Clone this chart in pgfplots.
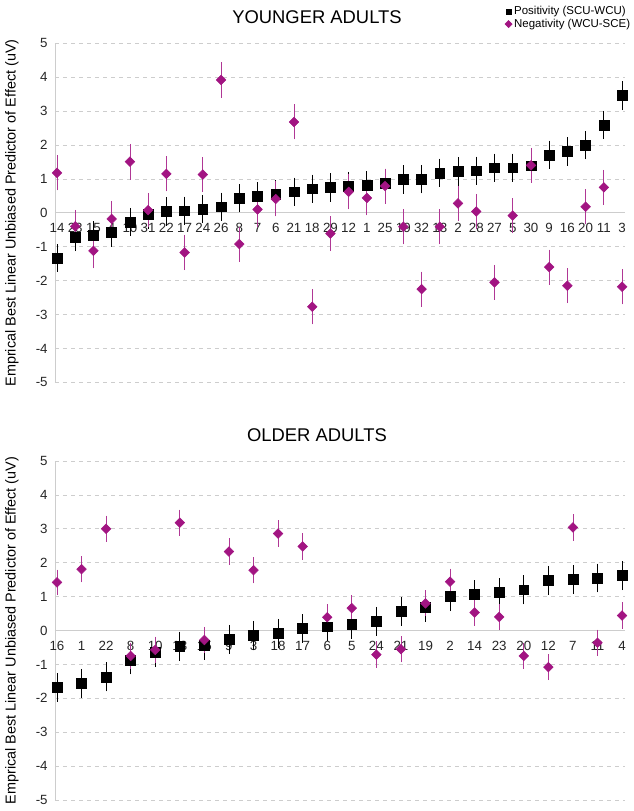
\documentclass[border=0pt]{standalone}
\usepackage{pgfplots}
\usepackage{pgfplotstable}
\pgfplotsset{compat=1.18}
\usepackage{fontspec}
\setmainfont{Liberation Sans}
\definecolor{mag}{RGB}{162,20,130}
\definecolor{gridc}{RGB}{205,205,205}

% Younger adults
\pgfplotstableread{
x y e
0 -1.33 0.32
1 -0.71 0.33
2 -0.66 0.33
3 -0.58 0.33
4 -0.27 0.33
5 -0.05 0.33
6 0.04 0.33
7 0.06 0.33
8 0.11 0.33
9 0.18 0.33
10 0.43 0.33
11 0.49 0.33
12 0.55 0.33
13 0.62 0.33
14 0.71 0.33
15 0.75 0.33
16 0.79 0.33
17 0.81 0.33
18 0.88 0.33
19 0.98 0.33
20 0.99 0.33
21 1.18 0.33
22 1.22 0.33
23 1.24 0.33
24 1.33 0.33
25 1.33 0.33
26 1.39 0.33
27 1.71 0.33
28 1.81 0.33
29 1.99 0.33
30 2.59 0.33
31 3.46 0.34
}\youngpos
\pgfplotstableread{
x y e
0 1.18 0.43
1 -0.40 0.40
2 -1.12 0.43
3 -0.18 0.44
4 1.51 0.44
5 0.08 0.42
6 1.15 0.43
7 -1.17 0.43
8 1.13 0.43
9 3.92 0.44
10 -0.92 0.43
11 0.10 0.43
12 0.41 0.43
13 2.68 0.43
14 -2.77 0.43
15 -0.61 0.43
16 0.62 0.43
17 0.44 0.43
18 0.79 0.43
19 -0.41 0.43
20 -2.25 0.43
21 -0.41 0.43
22 0.28 0.43
23 0.04 0.43
24 -2.05 0.43
25 -0.08 0.43
26 1.40 0.43
27 -1.60 0.43
28 -2.15 0.43
29 0.18 0.43
30 0.75 0.43
31 -2.18 0.43
}\youngneg
% Older adults
\pgfplotstableread{
x y e
0 -1.68 0.34
1 -1.56 0.34
2 -1.37 0.34
3 -0.87 0.34
4 -0.65 0.34
5 -0.46 0.34
6 -0.43 0.34
7 -0.26 0.34
8 -0.14 0.34
9 -0.08 0.34
10 0.06 0.34
11 0.11 0.34
12 0.19 0.34
13 0.27 0.34
14 0.56 0.34
15 0.68 0.34
16 1.00 0.34
17 1.06 0.34
18 1.12 0.34
19 1.20 0.34
20 1.48 0.34
21 1.50 0.34
22 1.55 0.34
23 1.62 0.34
}\oldpos
\pgfplotstableread{
x y e
0 1.42 0.29
1 1.81 0.30
2 3.00 0.30
3 -0.75 0.30
4 -0.57 0.30
5 3.18 0.30
6 -0.28 0.30
7 2.33 0.30
8 1.78 0.30
9 2.86 0.30
10 2.48 0.30
11 0.39 0.30
12 0.66 0.30
13 -0.71 0.30
14 -0.55 0.30
15 0.80 0.30
16 1.44 0.30
17 0.53 0.30
18 0.40 0.30
19 -0.75 0.30
20 -1.08 0.30
21 3.04 0.30
22 -0.36 0.30
23 0.44 0.30
}\oldneg

\pgfplotsset{
  geom/.style={scale only axis, width=427.5pt, height=254.25pt,
    anchor=north west, ymin=-5, ymax=5, clip=false},
  panel/.style={geom,
    axis x line*=middle, axis y line*=left,
    axis line style={gridc, line width=0.7pt},
    ytick={-5,...,5},
    yticklabels={-5,-4,-3,-2,-1,0,1,2,3,4,5},
    ymajorgrids, grid style={dashed, gridc, line width=0.6pt},
    major tick length=0pt,
    tick label style={font=\fontsize{10}{12}\selectfont, text=black!85},
    x tick label style={yshift=-4.5pt},
    y tick label style={xshift=-2pt},
  },
  dataaxis/.style={geom, hide axis},
  posplot/.style={only marks, mark=square*, black, mark size=3.7pt,
    mark options={fill=black},
    error bars/.cd, y dir=both, y explicit,
    error bar style={black, line width=0.6pt},
    error mark options={black, mark size=2.2pt, line width=0.6pt},
    /pgfplots/.cd},
  negplot/.style={only marks, mark=square*, mag, mark size=2.55pt,
    mark options={fill=mag, rotate=45},
    error bars/.cd, y dir=both, y explicit,
    error bar style={mag!85, line width=0.6pt},
    error mark options={mag!85, mark size=2.2pt, line width=0.6pt},
    /pgfplots/.cd},
}

\begin{document}
\begin{tikzpicture}
\useasboundingbox (0,0) rectangle (475.5pt,-608.25pt);

\node[font=\fontsize{13.8}{15}\selectfont] at (237.75pt,-13pt) {YOUNGER ADULTS};
\node[font=\fontsize{13.8}{15}\selectfont] at (237.75pt,-326.25pt) {OLDER ADULTS};
\node[rotate=90, font=\fontsize{10.8}{12}\selectfont] at (9pt,-159.75pt)
  {Emprical Best Linear Unbiased Predictor of Effect (uV)};
\node[rotate=90, font=\fontsize{10.8}{12}\selectfont] at (9pt,-472.9pt)
  {Emprical Best Linear Unbiased Predictor of Effect (uV)};

% ---- Younger adults: frame, then data on top
\begin{axis}[panel, at={(41.25pt,-32.5pt)},
  xmin=-0.11, xmax=31.16,
  xtick={0,...,31},
  xticklabels={14,23,15,4,10,31,22,17,24,26,8,7,6,21,18,29,12,1,25,19,32,13,2,28,27,5,30,9,16,20,11,3},
]
\end{axis}
\begin{axis}[dataaxis, at={(41.25pt,-32.5pt)},
  xmin=-0.11, xmax=31.16,
  legend style={at={(1.013,1.115)}, anchor=north east, draw=none, fill=none,
    font=\fontsize{8.6}{10}\selectfont, row sep=-1.5pt, inner sep=0pt,
    nodes={inner sep=1.5pt}},
  legend cell align=left,
  legend image code/.code={\draw[#1, mark size=1.9pt] plot coordinates {(0.1cm,0cm)};},
]
\addplot[posplot] table[x=x, y=y, y error=e] {\youngpos};
\addplot[negplot] table[x=x, y=y, y error=e] {\youngneg};
\legend{Positivity (SCU-WCU), Negativity (WCU-SCE)}
\end{axis}

% ---- Older adults
\begin{axis}[panel, at={(41.25pt,-345.75pt)},
  xmin=-0.08, xmax=23.12,
  xtick={0,...,23},
  xticklabels={16,1,22,8,10,13,15,9,3,18,17,6,5,24,21,19,2,14,23,20,12,7,11,4},
]
\end{axis}
\begin{axis}[dataaxis, at={(41.25pt,-345.75pt)},
  xmin=-0.08, xmax=23.12,
]
\addplot[posplot] table[x=x, y=y, y error=e] {\oldpos};
\addplot[negplot] table[x=x, y=y, y error=e] {\oldneg};
\end{axis}
\end{tikzpicture}
\end{document}
